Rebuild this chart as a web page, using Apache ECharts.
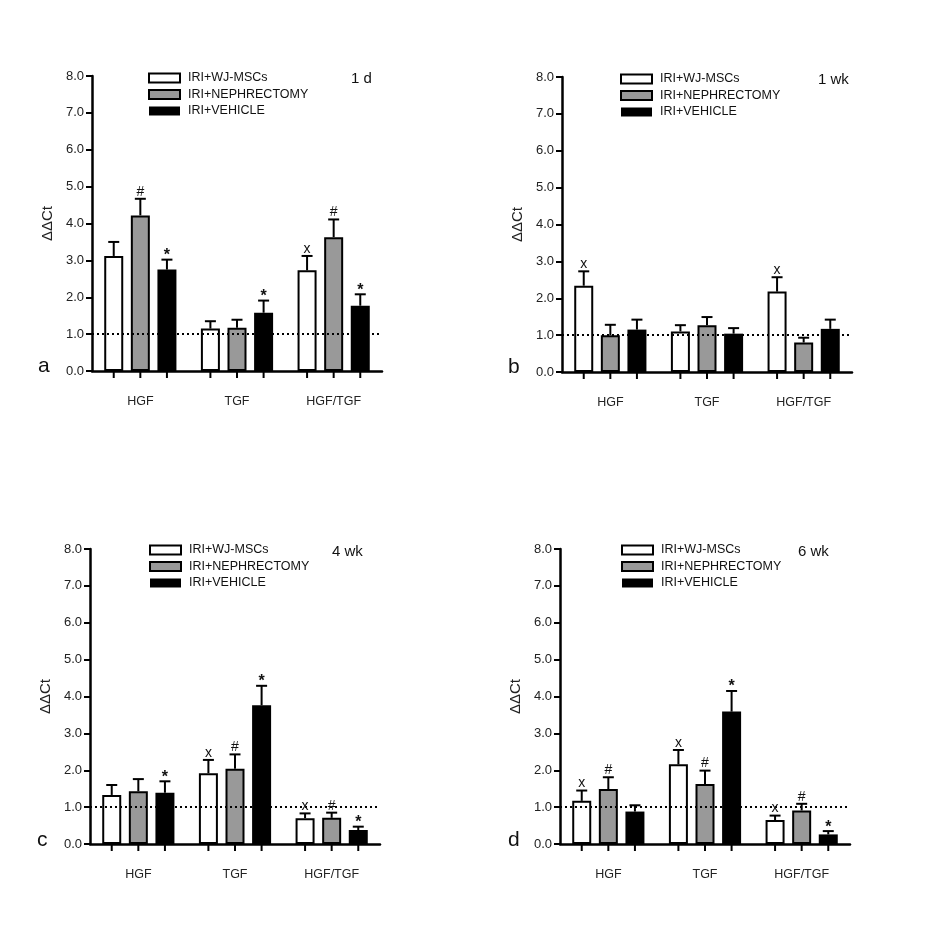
<!DOCTYPE html>
<html>
<head>
<meta charset="utf-8">
<script src="https://cdn.jsdelivr.net/npm/echarts@6/dist/echarts.min.js"></script>
<style>
  html, body { margin: 0; padding: 0; background: #fff; }
  #chart { width: 945px; height: 945px; }
</style>
</head>
<body>
<div id="chart"></div>
<script>
const categories = ["HGF", "TGF", "HGF/TGF"];
const groups = ["IRI+WJ-MSCs", "IRI+NEPHRECTOMY", "IRI+VEHICLE"];
const panelTitles = ["1 d", "1 wk", "4 wk", "6 wk"];
const panelLetters = ["a", "b", "c", "d"];

// mean ΔΔCt, one row per group (WJ-MSCs, NEPHRECTOMY, VEHICLE)
const mean1d = [[3.12, 1.15, 2.73], [4.22, 1.17, 3.63], [2.75, 1.58, 1.77]];
const mean1wk = [[2.34, 1.10, 2.18], [1.00, 1.27, 0.80], [1.15, 1.04, 1.17]];
const mean4wk = [[1.33, 1.92, 0.70], [1.43, 2.04, 0.71], [1.39, 3.76, 0.38]];
const mean6wk = [[1.17, 2.16, 0.65], [1.49, 1.63, 0.91], [0.88, 3.59, 0.26]];

// error (upper bar length)
const err1d = [[0.38, 0.20, 0.39], [0.45, 0.22, 0.48], [0.27, 0.33, 0.31]];
const err1wk = [[0.39, 0.17, 0.39], [0.28, 0.22, 0.13], [0.27, 0.15, 0.25]];
const err4wk = [[0.27, 0.36, 0.13], [0.33, 0.39, 0.14], [0.31, 0.53, 0.09]];
const err6wk = [[0.28, 0.39, 0.12], [0.32, 0.36, 0.18], [0.17, 0.56, 0.09]];

// significance marks
const sig1d = [["", "", "x"], ["#", "", "#"], ["*", "*", "*"]];
const sig1wk = [["x", "", "x"], ["", "", ""], ["", "", ""]];
const sig4wk = [["", "x", "x"], ["", "#", "#"], ["*", "*", "*"]];
const sig6wk = [["x", "x", "x"], ["#", "#", "#"], ["", "*", "*"]];

const means = [mean1d, mean1wk, mean4wk, mean6wk];
const errs = [err1d, err1wk, err4wk, err6wk];
const sigs = [sig1d, sig1wk, sig4wk, sig6wk];

const font = "Liberation Sans, Arial, sans-serif";
const barW = 19;
const barStep = 26.6;
const fills = ["#ffffff", "#999999", "#000000"];

const grids = [
  { left: 92, top: 76, width: 290, height: 295 },
  { left: 562, top: 77, width: 290, height: 295 },
  { left: 90, top: 549, width: 290, height: 295 },
  { left: 560, top: 549, width: 290, height: 295 }
];
const legendPos = [
  { left: 148, top: 71 },
  { left: 620, top: 72 },
  { left: 149, top: 543 },
  { left: 621, top: 543 }
];
const titlePos = [
  { left: 351, top: 71 },
  { left: 818, top: 72 },
  { left: 332, top: 544 },
  { left: 798, top: 544 }
];
const letterPos = [
  { left: 38, top: 356 },
  { left: 508, top: 357 },
  { left: 37, top: 830 },
  { left: 508, top: 830 }
];

const myChart = echarts.init(document.getElementById("chart"));

const xAxis = [];
const yAxis = [];
const series = [];
const legend = [];
const title = [];

grids.forEach((g, p) => {
  xAxis.push({
    type: "category",
    gridIndex: p,
    data: categories,
    axisLine: { lineStyle: { color: "#000", width: 2.5 } },
    axisTick: { show: false },
    axisLabel: { color: "#222", fontSize: 12.5, fontFamily: font, margin: 24 }
  });
  yAxis.push({
    type: "value",
    gridIndex: p,
    min: 0,
    max: 8,
    interval: 1,
    name: "ΔΔCt",
    nameLocation: "middle",
    nameGap: 37,
    nameTextStyle: { color: "#222", fontSize: 15, fontFamily: font },
    axisLine: { show: true, lineStyle: { color: "#000", width: 2.5 } },
    axisTick: { show: true, length: 6, lineStyle: { width: 2, color: "#000" } },
    splitLine: { show: false },
    axisLabel: {
      color: "#222",
      fontSize: 13,
      fontFamily: font,
      margin: 8,
      formatter: v => v.toFixed(1)
    }
  });

  groups.forEach((name, gi) => {
    const s = {
      name,
      type: "bar",
      xAxisIndex: p,
      yAxisIndex: p,
      barWidth: barW,
      barGap: "40%",
      itemStyle: {
        color: fills[gi],
        borderColor: "#000",
        borderWidth: gi === 2 ? 0 : 2
      },
      data: means[p][gi]
    };
    if (gi === 2) {
      s.markLine = {
        silent: true,
        symbol: "none",
        label: { show: false },
        lineStyle: { color: "#000", width: 2, type: [2, 3] },
        data: [{ yAxis: 1 }]
      };
    }
    series.push(s);
  });

  // error bars, x-axis ticks under each bar, significance marks
  const errData = [];
  groups.forEach((name, gi) => {
    categories.forEach((c, ci) => {
      errData.push([ci, means[p][gi][ci], errs[p][gi][ci], gi]);
    });
  });
  series.push({
    type: "custom",
    xAxisIndex: p,
    yAxisIndex: p,
    silent: true,
    z: 5,
    renderItem: (params, api) => {
      const ci = api.value(0);
      const m = api.value(1);
      const e = api.value(2);
      const gi = api.value(3);
      const base = api.coord([ci, 0]);
      const top = api.coord([ci, m]);
      const cap = api.coord([ci, m + e]);
      const x = base[0] + (gi - 1) * barStep;
      const mark = sigs[p][gi][ci];
      const children = [
        { type: "line", shape: { x1: x, y1: top[1], x2: x, y2: cap[1] }, style: { stroke: "#000", lineWidth: 2 } },
        { type: "line", shape: { x1: x - 5.5, y1: cap[1], x2: x + 5.5, y2: cap[1] }, style: { stroke: "#000", lineWidth: 2 } },
        { type: "line", shape: { x1: x, y1: base[1], x2: x, y2: base[1] + 7 }, style: { stroke: "#000", lineWidth: 2 } }
      ];
      if (mark) {
        children.push({
          type: "text",
          style: {
            text: mark,
            x: x,
            y: cap[1] + (mark === "*" ? 4 : 0),
            align: "center",
            verticalAlign: "bottom",
            fill: "#111",
            font: (mark === "*" ? "bold 16px " : "14px ") + font
          }
        });
      }
      return { type: "group", children };
    },
    data: errData
  });

  legend.push({
    left: legendPos[p].left,
    top: legendPos[p].top,
    orient: "vertical",
    padding: 0,
    icon: "rect",
    data: groups,
    itemWidth: 31,
    itemHeight: 9,
    itemGap: 2.5,
    selectedMode: false,
    textStyle: { color: "#111", fontSize: 12.5, fontFamily: font, lineHeight: 14, padding: [0, 0, 0, 3] }
  });

  title.push({
    text: panelTitles[p],
    left: titlePos[p].left,
    top: titlePos[p].top,
    padding: 0,
    textStyle: { color: "#111", fontSize: 15, fontWeight: "normal", fontFamily: font }
  });
  title.push({
    text: panelLetters[p],
    left: letterPos[p].left,
    top: letterPos[p].top,
    padding: 0,
    textStyle: { color: "#111", fontSize: 21, fontWeight: "normal", fontFamily: font }
  });
});

myChart.setOption({
  animation: false,
  backgroundColor: "#fff",
  title,
  legend,
  grid: grids,
  xAxis,
  yAxis,
  series
});
</script>
</body>
</html>
